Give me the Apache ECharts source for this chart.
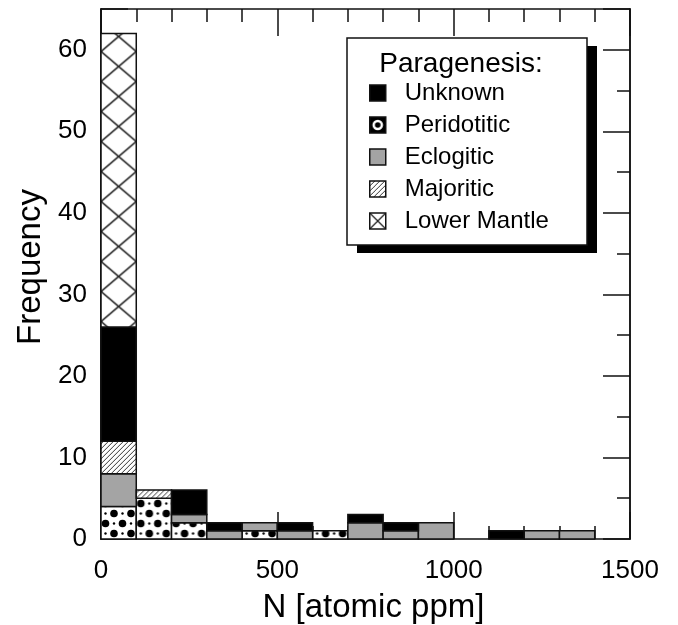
<!DOCTYPE html>
<html>
<head>
<meta charset="utf-8">
<script src="https://cdn.jsdelivr.net/npm/echarts@6/dist/echarts.min.js"></script>
<style>
  html, body { margin: 0; padding: 0; background: #fff; }
  #chart { width: 678px; height: 625px; }
</style>
</head>
<body>
<div id="chart"></div>
<script>
// Histogram of nitrogen content, stacked by paragenesis (bins 100 ppm wide)
const binStart = [0, 100, 200, 300, 400, 500, 600, 700, 800, 900, 1000, 1100, 1200, 1300];
const binWidth = 100;

// counts per bin, listed bottom-to-top in stacking order
const peridotitic = [4, 5, 2, 0, 1, 0, 1, 0, 0, 0, 0, 0, 0, 0];
const eclogitic   = [4, 0, 1, 1, 1, 1, 0, 2, 1, 2, 0, 0, 1, 1];
const majoritic   = [4, 1, 0, 0, 0, 0, 0, 0, 0, 0, 0, 0, 0, 0];
const unknown     = [14, 0, 3, 1, 0, 1, 0, 1, 1, 0, 0, 1, 0, 0];
const lowerMantle = [36, 0, 0, 0, 0, 0, 0, 0, 0, 0, 0, 0, 0, 0];

const legendOrder = ['Unknown', 'Peridotitic', 'Eclogitic', 'Majoritic', 'Lower Mantle'];
const xTicks = [0, 500, 1000, 1500];
const yTicks = [0, 10, 20, 30, 40, 50, 60];

const FONT = '"Liberation Sans", Arial, Helvetica, sans-serif';
const INK = '#111';

// ---- fill patterns ----
function makeCanvas(w, h, draw) {
  const c = document.createElement('canvas');
  c.width = w; c.height = h;
  const ctx = c.getContext('2d');
  ctx.fillStyle = '#fff';
  ctx.fillRect(0, 0, w, h);
  draw(ctx, w, h);
  return c;
}
const dotTile = makeCanvas(17, 20, (ctx) => {
  ctx.fillStyle = '#000';
  [[4.5, 4.5], [13, 14.5], [13, -5.5], [-4, 14.5], [21.5, 14.5], [4.5, 24.5]].forEach(([x, y]) => {
    ctx.beginPath(); ctx.arc(x, y, 3.8, 0, Math.PI * 2); ctx.fill();
  });
  [[13, 4.5], [4.5, 14.5]].forEach(([x, y]) => {
    ctx.beginPath(); ctx.arc(x, y, 1.2, 0, Math.PI * 2); ctx.fill();
  });
});
const hatchTile = makeCanvas(5, 5, (ctx, w, h) => {
  ctx.strokeStyle = '#333'; ctx.lineWidth = 1;
  ctx.beginPath();
  ctx.moveTo(-1, h + 1); ctx.lineTo(w + 1, -1);
  ctx.moveTo(-1, 1); ctx.lineTo(1, -1);
  ctx.moveTo(w - 1, h + 1); ctx.lineTo(w + 1, h - 1);
  ctx.stroke();
});
const crossTile = makeCanvas(35, 30, (ctx, w, h) => {
  ctx.strokeStyle = '#222'; ctx.lineWidth = 1.6;
  ctx.beginPath();
  ctx.moveTo(0, 0); ctx.lineTo(w, h);
  ctx.moveTo(w, 0); ctx.lineTo(0, h);
  ctx.stroke();
});
const dotIcon = makeCanvas(16, 16, (ctx) => {
  ctx.fillStyle = '#000'; ctx.fillRect(0, 0, 16, 16);
  ctx.fillStyle = '#fff'; ctx.beginPath(); ctx.arc(8, 8, 5.3, 0, Math.PI * 2); ctx.fill();
  ctx.fillStyle = '#000'; ctx.beginPath(); ctx.arc(8, 8, 2.8, 0, Math.PI * 2); ctx.fill();
});
const crossIcon = makeCanvas(16, 16, (ctx) => {
  ctx.strokeStyle = '#222'; ctx.lineWidth = 1.3;
  ctx.beginPath();
  ctx.moveTo(0, 0); ctx.lineTo(16, 16); ctx.moveTo(16, 0); ctx.lineTo(0, 16);
  ctx.stroke();
});

function fillFor(kind, left, top, bottom, width) {
  if (kind === 'solid-black') return '#000';
  if (kind === 'gray') return '#a4a4a4';
  if (kind === 'dots') return { image: dotTile, repeat: 'repeat', x: left, y: bottom };
  if (kind === 'hatch') return { image: hatchTile, repeat: 'repeat', x: left, y: bottom };
  if (kind === 'cross') return { image: crossTile, repeat: 'repeat', x: left, y: top - 12, scaleX: width / 35 };
  return '#fff';
}

// stack layers bottom-to-top
const layers = [
  { name: 'Peridotitic', values: peridotitic, kind: 'dots' },
  { name: 'Eclogitic', values: eclogitic, kind: 'gray' },
  { name: 'Majoritic', values: majoritic, kind: 'hatch' },
  { name: 'Unknown', values: unknown, kind: 'solid-black' },
  { name: 'Lower Mantle', values: lowerMantle, kind: 'cross' }
];

const base = binStart.map(() => 0);
const series = layers.map((layer) => {
  const data = [];
  layer.values.forEach((v, i) => {
    if (v > 0) data.push([binStart[i], binStart[i] + binWidth, base[i], base[i] + v]);
    base[i] += v;
  });
  return {
    name: layer.name,
    type: 'custom',
    xAxisIndex: 0,
    yAxisIndex: 0,
    encode: { x: [0, 1], y: [2, 3] },
    data: data,
    z: 3,
    renderItem: function (params, api) {
      const p0 = api.coord([api.value(0), api.value(2)]);
      const p1 = api.coord([api.value(1), api.value(3)]);
      const w = p1[0] - p0[0];
      return {
        type: 'rect',
        shape: { x: p0[0], y: p1[1], width: w, height: p0[1] - p1[1] },
        style: { fill: fillFor(layer.kind, p0[0], p1[1], p0[1], w), stroke: INK, lineWidth: 1.5 }
      };
    }
  };
});

const legendIcons = {
  'Unknown': '#000',
  'Peridotitic': { image: dotIcon, repeat: 'no-repeat' },
  'Eclogitic': '#a4a4a4',
  'Majoritic': { image: hatchTile, repeat: 'repeat' },
  'Lower Mantle': { image: crossIcon, repeat: 'no-repeat' }
};

const tickLine = { color: INK, width: 1.5 };
function xAxisDef(pos, withLabels) {
  return {
    type: 'value', position: pos, min: 0, max: 1500, interval: 500,
    name: withLabels ? 'N [atomic ppm]' : '',
    nameLocation: 'middle', nameGap: 52,
    nameTextStyle: { fontFamily: FONT, fontSize: 33, color: '#000', padding: [0, 0, 0, 16] },
    axisLine: { show: true, onZero: false, lineStyle: tickLine },
    axisTick: { show: true, inside: true, length: 27, lineStyle: tickLine },
    minorTick: { show: true, splitNumber: 5, length: 13, lineStyle: tickLine },
    splitLine: { show: false },
    axisLabel: {
      show: withLabels, margin: 19, fontFamily: FONT, fontSize: 26, color: '#000',
      customValues: xTicks, formatter: (v) => String(v)
    }
  };
}
function yAxisDef(pos, interval, len, withLabels) {
  return {
    type: 'value', position: pos, min: 0, max: 65, interval: interval,
    name: withLabels ? 'Frequency' : '',
    nameLocation: 'middle', nameGap: 54, nameRotate: 90,
    nameTextStyle: { fontFamily: FONT, fontSize: 33, color: '#000', padding: [0, 0, 0, 14] },
    axisLine: { show: true, onZero: false, lineStyle: tickLine },
    axisTick: { show: true, inside: true, length: len, lineStyle: tickLine },
    splitLine: { show: false },
    axisLabel: {
      show: withLabels, margin: 14, fontFamily: FONT, fontSize: 26, color: '#000',
      customValues: yTicks, formatter: (v) => String(v)
    }
  };
}

const chart = echarts.init(document.getElementById('chart'), null, { renderer: 'canvas' });
chart.setOption({
  animation: false,
  backgroundColor: '#fff',
  grid: { left: 101, right: 48, top: 9, bottom: 86, containLabel: false, outerBoundsMode: 'none' },
  xAxis: [xAxisDef('bottom', true), xAxisDef('top', false)],
  yAxis: [
    yAxisDef('left', 10, 27, true),
    yAxisDef('left', 5, 13, false),
    yAxisDef('right', 10, 27, false),
    yAxisDef('right', 5, 13, false)
  ],
  graphic: [
    // legend panel: offset black block behind a white framed box
    {
      type: 'rect', x: 357, y: 46, z: 5,
      shape: { width: 240, height: 207 },
      style: { fill: '#000' }
    },
    {
      type: 'rect', x: 347, y: 38, z: 6,
      shape: { width: 240, height: 207 },
      style: { fill: '#fff', stroke: INK, lineWidth: 1.5 }
    },
    {
      type: 'text', x: 461, y: 64, z: 7,
      style: {
        text: 'Paragenesis:', fontFamily: FONT, fontSize: 28, fill: '#000',
        align: 'center', verticalAlign: 'middle'
      }
    }
  ],
  legend: {
    orient: 'vertical', left: 369, top: 81, padding: 0, z: 8,
    itemWidth: 16, itemHeight: 16, itemGap: 8, icon: 'rect',
    selectedMode: false,
    textStyle: { fontFamily: FONT, fontSize: 24, color: '#000', lineHeight: 24, padding: [0, 0, 0, 14] },
    data: legendOrder.map((n) => ({
      name: n,
      itemStyle: { color: legendIcons[n], borderColor: INK, borderWidth: 1.5 }
    }))
  },
  series: series
});
</script>
</body>
</html>
